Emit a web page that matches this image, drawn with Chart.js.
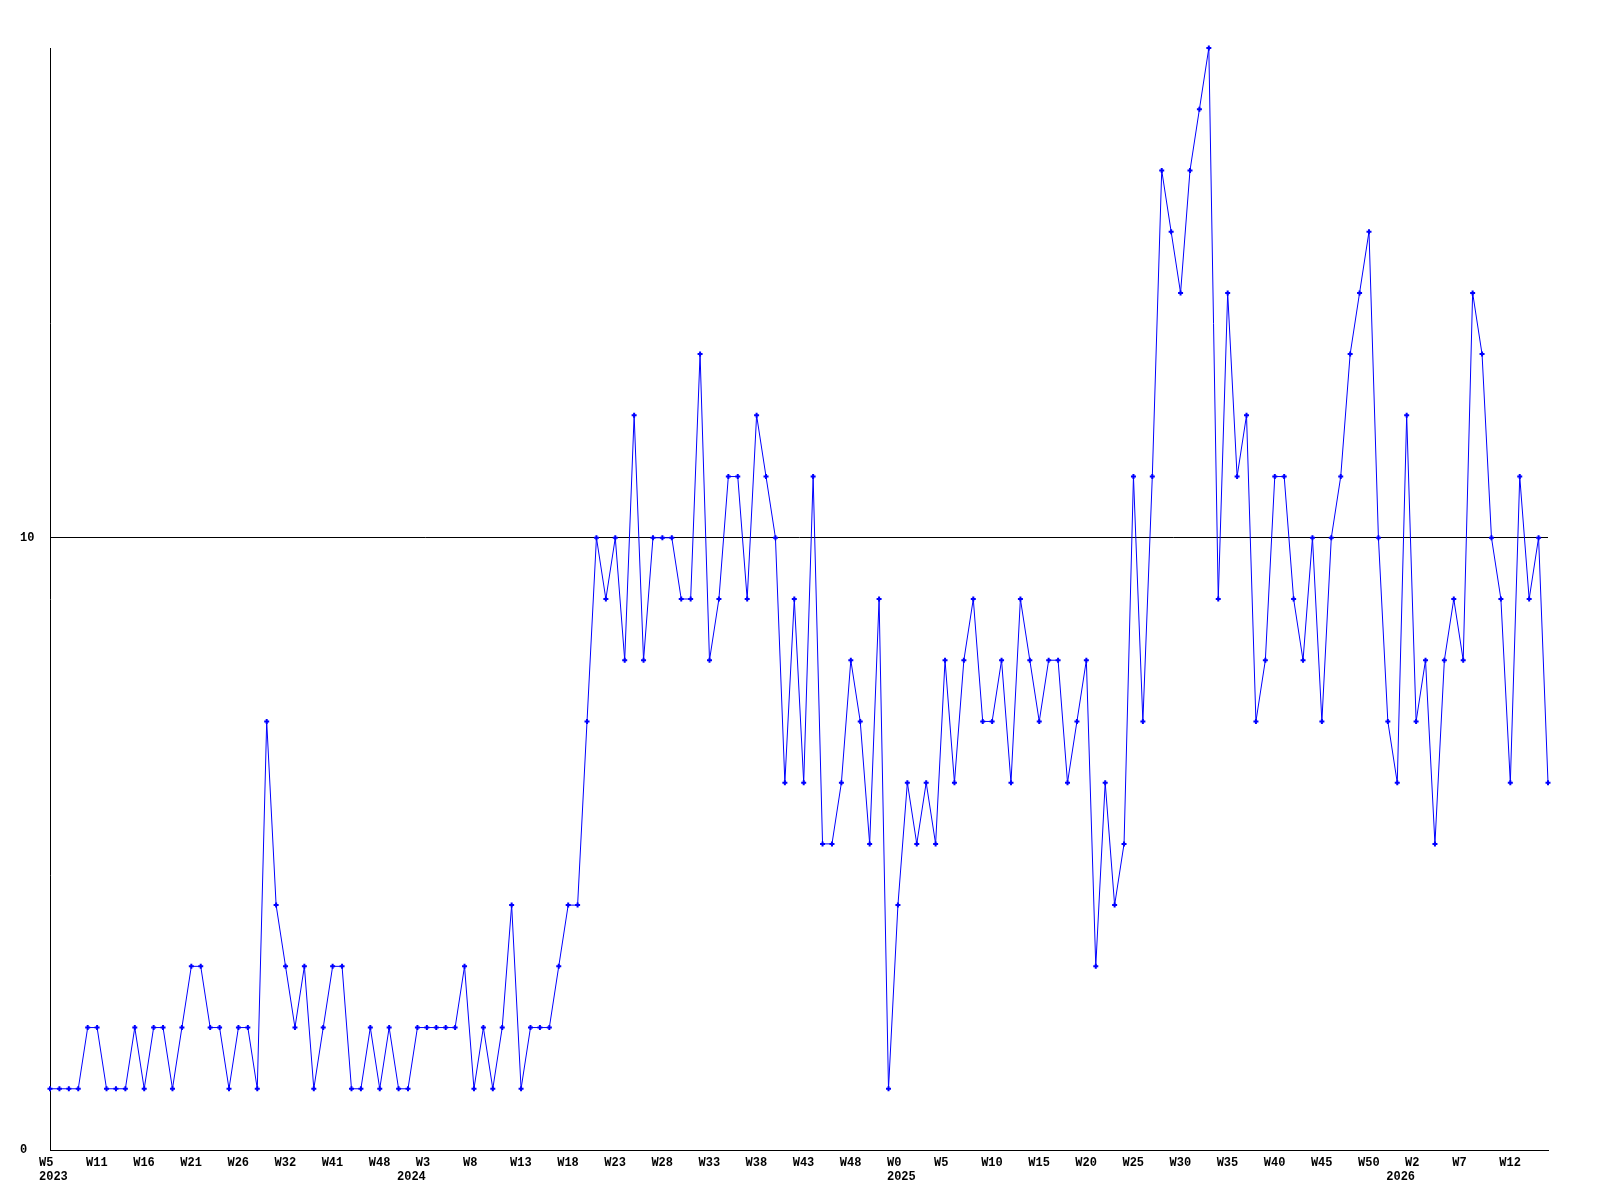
<!DOCTYPE html>
<html>
<head>
<meta charset="utf-8">
<script src="https://cdn.jsdelivr.net/npm/chart.js@4.4.1/dist/chart.umd.min.js"></script>
<style>
    body { margin: 0; background: #fff; }
    canvas { display: block; }
</style>
</head>
<body>
<canvas id="weekChart" width="1600" height="1200"></canvas>
<script>
// weekly values, one per point
const values = [
    1, 1, 1, 1, 2, 2, 1, 1, 1, 2, 1, 2, 2, 1, 2, 3, 3, 2, 2, 1, 2, 2, 1, 7, 4, 3, 2, 3,
    1, 2, 3, 3, 1, 1, 2, 1, 2, 1, 1, 2, 2, 2, 2, 2, 3, 1, 2, 1, 2, 4, 1, 2, 2, 2, 3, 4,
    4, 7, 10, 9, 10, 8, 12, 8, 10, 10, 10, 9, 9, 13, 8, 9, 11, 11, 9, 12, 11, 10, 6, 9, 6, 11, 5,
    5, 6, 8, 7, 5, 9, 1, 4, 6, 5, 6, 5, 8, 6, 8, 9, 7, 7, 8, 6, 9, 8, 7, 8, 8, 6, 7, 8,
    3, 6, 4, 5, 11, 7, 11, 16, 15, 14, 16, 17, 18, 9, 14, 11, 12, 7, 8, 11, 11, 9, 8, 10, 7, 10, 11,
    13, 14, 15, 10, 7, 6, 12, 7, 8, 5, 8, 9, 8, 14, 13, 10, 9, 6, 11, 9, 10, 6
];

// week labels shown under every 5th point
const weekTicks = [
    "W5", "W11", "W16", "W21", "W26", "W32", "W41", "W48",
    "W3", "W8", "W13", "W18", "W23", "W28", "W33", "W38", "W43", "W48",
    "W0", "W5", "W10", "W15", "W20", "W25", "W30", "W35", "W40", "W45", "W50",
    "W2", "W7", "W12"
];
const tickEvery = 5;

// year labels and the point they start at
const yearLabels = ["2023", "2024", "2025", "2026"];
const yearStart = [0, 38, 90, 143];

const FONT = { family: "'Liberation Mono', 'DejaVu Sans Mono', monospace", size: 12, weight: "bold" };

const labels = values.map((v, i) => i);

const yearPlugin = {
    id: "years",
    afterDraw(chart) {
        const ctx = chart.ctx;
        const xs = chart.scales.x;
        ctx.save();
        ctx.font = `bold ${FONT.size}px ${FONT.family}`;
        ctx.fillStyle = "#000";
        ctx.textAlign = "left";
        ctx.textBaseline = "top";
        yearLabels.forEach((year, i) => {
            ctx.fillText(year, xs.getPixelForValue(yearStart[i]) - 11, 1171);
        });
        ctx.restore();
    }
};

new Chart(document.getElementById("weekChart"), {
    type: "line",
    data: {
        labels,
        datasets: [{
            data: values,
            borderColor: "#0000ff",
            backgroundColor: "#0000ff",
            borderWidth: 1,
            tension: 0,
            pointStyle: "cross",
            pointRadius: 2.5,
            pointBorderWidth: 2,
            clip: false
        }]
    },
    options: {
        responsive: false,
        devicePixelRatio: 1,
        animation: false,
        events: [],
        layout: { padding: { left: 20, top: 48, right: 52, bottom: 0 }, autoPadding: false },
        plugins: { legend: { display: false }, tooltip: { enabled: false } },
        scales: {
            x: {
                type: "category",
                offset: false,
                grid: { display: false, drawTicks: false },
                border: { display: true, color: "#000", width: 1 },
                ticks: {
                    autoSkip: false,
                    maxRotation: 0,
                    minRotation: 0,
                    align: "start",
                    labelOffset: -11,
                    padding: 6,
                    color: "#000",
                    font: FONT,
                    callback: (val, i) => i % tickEvery === 0 ? (weekTicks[i / tickEvery] || "") : ""
                },
                afterFit: (scale) => { scale.height = 50; }
            },
            y: {
                min: 0,
                max: 18,
                grid: { color: "#000", lineWidth: 1, drawTicks: false },
                border: { display: true, color: "#000", width: 1 },
                ticks: {
                    stepSize: 10,
                    includeBounds: false,
                    crossAlign: "far",
                    padding: 0,
                    color: "#000",
                    font: FONT
                },
                afterFit: (scale) => { scale.width = 30; }
            }
        }
    },
    plugins: [yearPlugin]
});
</script>
</body>
</html>
